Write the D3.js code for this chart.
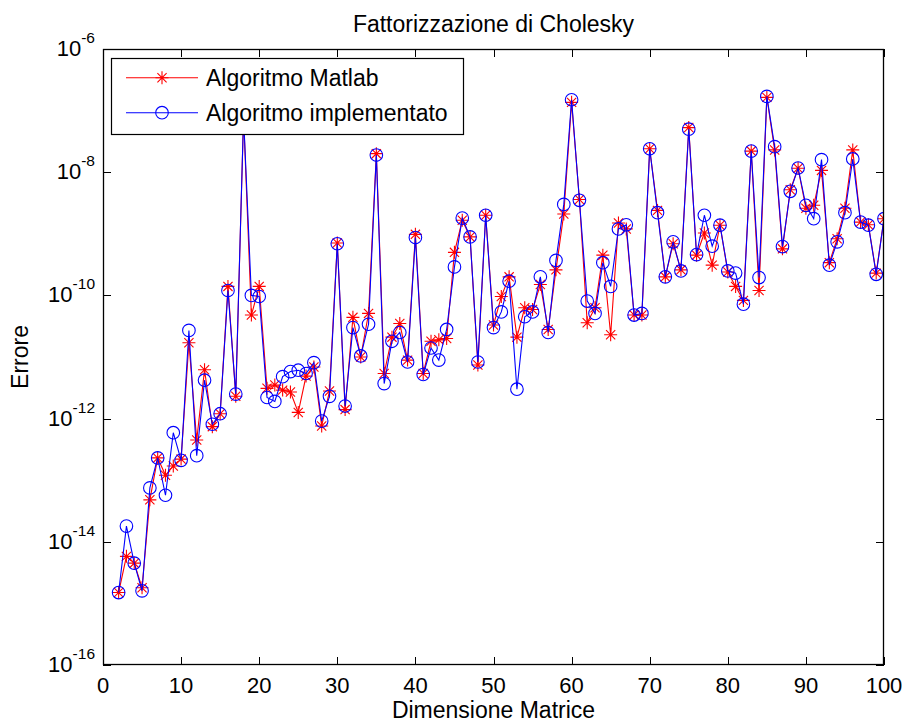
<!DOCTYPE html>
<html>
<head>
<meta charset="utf-8">
<script src="https://d3js.org/d3.v7.min.js"></script>
<style>
body{margin:0;background:#fff}
text{font-family:"Liberation Sans",Arial,Helvetica,sans-serif;fill:#000}
</style>
</head>
<body>
<svg id="graph"></svg>
<script>
//matrix sizes (x axis)
var dims = [2,3,4,5,6,7,8,9,10,11,12,13,14,15,16,17,18,19,20,21,22,23,24,25,26,27,28,29,30,
	31,32,33,34,35,36,37,38,39,40,41,42,43,44,45,46,47,48,49,50,51,52,53,54,55,56,57,58,59,60,
	61,62,63,64,65,66,67,68,69,70,71,72,73,74,75,76,77,78,79,80,81,82,83,84,85,86,87,88,89,90,
	91,92,93,94,95,96,97,98,99,100]

//error of matlab chol (red stars)
var errMatlab = [1.5e-15,5.8e-15,4.5e-15,1.8e-15,4.8e-14,2.3e-13,1.2e-13,1.7e-13,2.2e-13,
	1.7e-11,4.5e-13,6.2e-12,7.4e-13,1.2e-12,1.4e-10,2.3e-12,8e-8,4.8e-11,1.4e-10,
	3.1e-12,3.5e-12,2.9e-12,2.7e-12,1.26e-12,4.9e-12,6.9e-12,7.6e-13,2.8e-12,7.1e-10,
	1.4e-12,4.4e-11,1.0e-11,5.1e-11,2.0e-8,5.4e-12,2.1e-11,3.5e-11,8.9e-12,9.8e-10,
	5.4e-12,1.8e-11,1.9e-11,2.0e-11,5.0e-10,1.66e-9,8.9e-10,7.4e-12,2.0e-9,3.3e-11,
	9.6e-11,2.0e-10,2.1e-11,6.3e-11,5.9e-11,1.5e-10,2.8e-11,2.6e-10,2.1e-9,1.36e-7,
	3.6e-9,3.6e-11,6.3e-11,4.5e-10,2.3e-11,1.5e-9,1.2e-9,4.8e-11,4.8e-11,2.4e-8,
	2.4e-9,2.0e-10,6.9e-10,2.6e-10,5.3e-8,4.5e-10,1.03e-9,3.1e-10,1.38e-9,2.4e-10,
	1.4e-10,8.3e-11,2.2e-8,1.2e-10,1.64e-7,2.3e-8,5.7e-10,5.2e-9,1.16e-8,2.6e-9,
	2.9e-9,1.07e-8,3.4e-10,8.3e-10,2.6e-9,2.3e-8,1.55e-9,1.4e-9,2.3e-10,1.76e-9]

//error of implemented algorithm (blue circles)
var errImpl = [1.5e-15,1.8e-14,4.5e-15,1.6e-15,7.5e-14,2.3e-13,5.7e-14,5.9e-13,2.1e-13,
	2.7e-11,2.5e-13,4.2e-12,8.1e-13,1.2e-12,1.2e-10,2.5e-12,8e-8,1.0e-10,9.6e-11,
	2.2e-12,1.9e-12,4.8e-12,5.8e-12,6.1e-12,5.4e-12,8.1e-12,9.1e-13,2.3e-12,6.9e-10,
	1.6e-12,3.0e-11,1.04e-11,3.4e-11,1.9e-8,3.7e-12,1.8e-11,2.5e-11,8.3e-12,8.7e-10,
	5.2e-12,1.4e-11,8.9e-12,2.8e-11,2.9e-10,1.8e-9,8.9e-10,8.3e-12,2.0e-9,3.0e-11,
	5.4e-11,1.7e-10,3.0e-12,4.5e-11,5.4e-11,2.0e-10,2.5e-11,3.7e-10,3.0e-9,1.5e-7,
	3.5e-9,8.1e-11,5.1e-11,3.4e-10,1.4e-10,1.2e-9,1.4e-9,4.8e-11,5.1e-11,2.4e-8,
	2.2e-9,2.0e-10,7.4e-10,2.5e-10,5.0e-8,4.6e-10,2.0e-9,6.3e-10,1.38e-9,2.5e-10,
	2.3e-10,7.2e-11,2.2e-8,1.95e-10,1.7e-7,2.6e-8,6.2e-10,4.9e-9,1.17e-8,2.9e-9,
	1.76e-9,1.6e-8,3.1e-10,7.4e-10,2.2e-9,1.64e-8,1.55e-9,1.38e-9,2.2e-10,1.76e-9]

//tick labels
var xTicks = [0,10,20,30,40,50,60,70,80,90,100]
var yExps = [-16,-14,-12,-10,-8,-6]

var seriesNames = ["Algoritmo Matlab","Algoritmo implementato"]
var colors = ["#ff0000","#0000ff"]

var svg = d3.select('#graph')
	.attr('width',906)
	.attr('height',724)

//plot box
var margin = {top:49, right:22, bottom:59, left:103}
var width = +svg.attr('width') - margin.left - margin.right
var height = +svg.attr('height') - margin.top - margin.bottom

var x = d3.scaleLinear().domain([0,100]).range([margin.left, margin.left + width])
var y = d3.scaleLog().domain([1e-16,1e-6]).range([margin.top + height, margin.top])

svg.append('rect').attr('width',906).attr('height',724).attr('fill','#fff')

svg.append('clipPath').attr('id','clip')
	.append('rect')
	.attr('x',margin.left).attr('y',margin.top)
	.attr('width',width).attr('height',height)

//ticks inside the box, on all four sides
var tickLen = 8
var ticks = svg.append('g').attr('stroke','#000').attr('stroke-width',1).attr('shape-rendering','crispEdges')
xTicks.forEach(function(t){
	var px = Math.round(x(t)) + 0.5
	ticks.append('line').attr('x1',px).attr('x2',px).attr('y1',margin.top+height).attr('y2',margin.top+height-tickLen)
	ticks.append('line').attr('x1',px).attr('x2',px).attr('y1',margin.top).attr('y2',margin.top+tickLen)
})
yExps.forEach(function(e){
	var py = Math.round(y(Math.pow(10,e))) + 0.5
	ticks.append('line').attr('x1',margin.left).attr('x2',margin.left+tickLen).attr('y1',py).attr('y2',py)
	ticks.append('line').attr('x1',margin.left+width).attr('x2',margin.left+width-tickLen).attr('y1',py).attr('y2',py)
})

//x tick labels
svg.append('g').selectAll('text')
	.data(xTicks)
	.enter()
	.append('text')
	.attr('x',function(d){ return x(d) })
	.attr('y',margin.top+height+28)
	.attr('text-anchor','middle')
	.style('font-size','22px')
	.text(function(d){ return d })

//y tick labels 10^e
var yl = svg.append('g').selectAll('text')
	.data(yExps)
	.enter()
	.append('text')
	.attr('x',margin.left-8)
	.attr('y',function(d){ return y(Math.pow(10,d)) + 7 })
	.attr('text-anchor','end')
	.style('font-size','22px')
yl.append('tspan').text('10')
yl.append('tspan').attr('dy',-13).style('font-size','15.5px').text(function(d){ return d })

//series
var data = [errMatlab, errImpl]
var line = d3.line()
	.x(function(d,i){ return x(dims[i]) })
	.y(function(d){ return y(d) })

var starPath = 'M-6.5,0L6.5,0M0,-6.5L0,6.5M-4.6,-4.6L4.6,4.6M-4.6,4.6L4.6,-4.6'

var plot = svg.append('g').attr('clip-path','url(#clip)')
data.forEach(function(vals,k){
	plot.append('path')
		.attr('d',line(vals))
		.attr('fill','none')
		.attr('stroke',colors[k])
		.attr('stroke-width',1.1)
	var m = plot.append('g').selectAll('.m'+k)
		.data(vals)
		.enter()
	if (k == 0) {
		m.append('path')
			.attr('d',starPath)
			.attr('transform',function(d,i){ return 'translate('+x(dims[i])+','+y(d)+')' })
			.attr('stroke',colors[k])
			.attr('stroke-width',1.1)
	} else {
		m.append('circle')
			.attr('cx',function(d,i){ return x(dims[i]) })
			.attr('cy',function(d){ return y(d) })
			.attr('r',6.3)
			.attr('fill','none')
			.attr('stroke',colors[k])
			.attr('stroke-width',1.1)
	}
})

//axes box
svg.append('rect')
	.attr('x',margin.left+0.5).attr('y',margin.top+0.5)
	.attr('width',width-1).attr('height',height-1)
	.attr('fill','none').attr('stroke','#000').attr('stroke-width',1.3)

//legend
var lg = svg.append('g')
lg.append('rect')
	.attr('x',111.5).attr('y',58.5).attr('width',352).attr('height',76)
	.attr('fill','#fff').attr('stroke','#000').attr('stroke-width',1.2)
var rows = [77.7, 112.7]
seriesNames.forEach(function(name,k){
	lg.append('line')
		.attr('x1',126).attr('x2',198).attr('y1',rows[k]).attr('y2',rows[k])
		.attr('stroke',colors[k]).attr('stroke-width',1.1)
	if (k == 0) {
		lg.append('path').attr('d',starPath).attr('transform','translate(162,'+rows[k]+')')
			.attr('stroke',colors[k]).attr('stroke-width',1.1)
	} else {
		lg.append('circle').attr('cx',162).attr('cy',rows[k]).attr('r',6.3)
			.attr('fill','none').attr('stroke',colors[k]).attr('stroke-width',1.1)
	}
	lg.append('text')
		.attr('x',206).attr('y',rows[k]+8.5)
		.style('font-size','23px')
		.text(name)
})

//title and axis labels
svg.append('text')
	.attr('x',margin.left+width/2).attr('y',32)
	.attr('text-anchor','middle')
	.style('font-size','23px')
	.text('Fattorizzazione di Cholesky')

svg.append('text')
	.attr('x',margin.left+width/2).attr('y',718)
	.attr('text-anchor','middle')
	.style('font-size','23px')
	.text('Dimensione Matrice')

svg.append('text')
	.attr('transform','translate(28,'+(margin.top+height/2)+') rotate(-90)')
	.attr('text-anchor','middle')
	.style('font-size','23px')
	.text('Errore')
</script>
</body>
</html>
